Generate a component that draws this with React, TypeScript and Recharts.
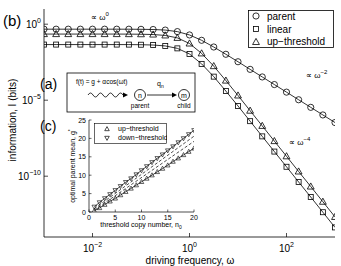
import React from 'react';
import { LineChart, Line, XAxis, YAxis, Legend } from 'recharts';

const FONT = '"Liberation Sans", Arial, sans-serif';

// main panel (b): information vs driving frequency
const omega = [
  0.001, 0.001778, 0.003162, 0.005623, 0.01, 0.01778, 0.03162, 0.05623, 0.1, 0.1778, 0.3162, 0.5623,
  1, 1.778, 3.162, 5.623, 10, 17.78, 31.62, 56.23, 100, 177.8, 316.2, 562.3, 1000,
];
const parentInfo = [
  0.47, 0.47, 0.47, 0.47, 0.47, 0.47, 0.47, 0.468, 0.461, 0.448, 0.411, 0.326,
  0.196, 0.0871, 0.0316, 0.0105, 3.39e-3, 1.07e-3, 3.39e-4, 1.07e-4, 3.39e-5, 1.07e-5, 3.39e-6, 1.07e-6, 3.39e-7,
];
const linearInfo = [
  0.0457, 0.0457, 0.0457, 0.0457, 0.0457, 0.0457, 0.0457, 0.0455, 0.0447, 0.0427, 0.0372, 0.0257,
  0.011, 2.45e-3, 3.55e-4, 3.98e-5, 4.17e-6, 4.17e-7, 4.17e-8, 4.17e-9, 4.17e-10, 4.17e-11, 4.27e-12, 4.27e-13, 4.27e-14,
];
const upInfo = [
  0.224, 0.224, 0.224, 0.224, 0.224, 0.224, 0.224, 0.222, 0.219, 0.209, 0.182, 0.126,
  0.0537, 0.012, 1.74e-3, 1.95e-4, 2.04e-5, 2.04e-6, 2.04e-7, 2.04e-8, 2.04e-9, 2.04e-10, 2.09e-11, 2.09e-12, 2.09e-13,
];
const omegaTicks = [0.01, 1, 100];
const infoTicks = [1e-10, 1e-5, 1];

// inset (c): optimal parent mean vs threshold copy number
const copyNumber = [1, 2, 3, 4, 5, 6, 7, 8, 9, 10, 11, 12, 13, 14, 15, 16, 17, 18, 19, 20];
const upMean = [0.3, 1.1, 2.0, 2.9, 3.7, 4.6, 5.5, 6.4, 7.3, 8.2, 9.1, 10.0, 10.9, 11.8, 12.7, 13.7, 14.6, 15.5, 16.4, 17.3];
const downMean = [1.4, 2.6, 3.7, 4.8, 5.9, 7.0, 8.1, 9.1, 10.2, 11.3, 12.4, 13.5, 14.6, 15.6, 16.7, 17.8, 18.9, 20.0, 21.1, 22.2];
const dashN = [1, 20];
const dashHigh = [0.9, 20.6];
const dashLow = [0.5, 19.2];
const copyTicks = [0, 5, 10, 15, 20];
const meanTicks = [0, 5, 10, 15, 20, 25];

const mainRows = omega.map((w, i) => ({ w, parent: parentInfo[i], linear: linearInfo[i], up: upInfo[i] }));
const insetRows = copyNumber.map((n, i) => ({ n, up: upMean[i], down: downMean[i] }));
const dashRows = dashN.map((n, i) => ({ n, hi: dashHigh[i], lo: dashLow[i] }));

const sup = (e: number) => (e < 0 ? '\u2212' + Math.abs(e) : String(e));
const expOf = (v: number) => Math.round(Math.log10(v));

const CircleDot = (p: any) =>
  p.cx == null ? <g key={p.index} /> : (
    <circle key={p.index} cx={p.cx} cy={p.cy} r={3.1} fill="none" stroke="#000" strokeWidth={0.8} />
  );
const SquareDot = (p: any) =>
  p.cx == null ? <g key={p.index} /> : (
    <rect key={p.index} x={p.cx - 2.5} y={p.cy - 2.5} width={5} height={5} fill="none" stroke="#000" strokeWidth={0.8} />
  );
const triUp = (cx: number, cy: number, s: number) =>
  `M${cx},${cy - s} L${cx + s * 0.95},${cy + s * 0.7} L${cx - s * 0.95},${cy + s * 0.7} Z`;
const triDown = (cx: number, cy: number, s: number) =>
  `M${cx},${cy + s} L${cx + s * 0.95},${cy - s * 0.7} L${cx - s * 0.95},${cy - s * 0.7} Z`;
const TriDot = (p: any) =>
  p.cx == null ? <g key={p.index} /> : (
    <path key={p.index} d={triUp(p.cx, p.cy, 3.6)} fill="none" stroke="#000" strokeWidth={0.8} />
  );
const SmallUp = (p: any) =>
  p.cx == null ? <g key={p.index} /> : (
    <path key={p.index} d={triUp(p.cx, p.cy, 2.4)} fill="none" stroke="#000" strokeWidth={0.6} />
  );
const SmallDown = (p: any) =>
  p.cx == null ? <g key={p.index} /> : (
    <path key={p.index} d={triDown(p.cx, p.cy, 2.4)} fill="none" stroke="#000" strokeWidth={0.6} />
  );

// ticks point inward like the original figure
const BottomLogTick = (p: any) => (
  <g>
    <line x1={p.x} y1={p.y} x2={p.x} y2={p.y - 4} stroke="#000" strokeWidth={0.7} />
    <text x={p.x} y={p.y + 15} textAnchor="middle" fontSize={10} fill="#000" fontFamily={FONT}>
      10<tspan dy={-5} fontSize={7}>{sup(expOf(p.payload.value))}</tspan>
    </text>
  </g>
);
const TopTick = (p: any) => <line x1={p.x} y1={p.y} x2={p.x} y2={p.y + 4} stroke="#000" strokeWidth={0.7} />;
const LeftLogTick = (p: any) => (
  <g>
    <line x1={p.x} y1={p.y} x2={p.x + 4} y2={p.y} stroke="#000" strokeWidth={0.7} />
    <text x={p.x - 3} y={p.y + 4} textAnchor="end" fontSize={10} fill="#000" fontFamily={FONT}>
      10<tspan dy={-5} fontSize={7}>{sup(expOf(p.payload.value))}</tspan>
    </text>
  </g>
);
const RightTick = (p: any) => <line x1={p.x} y1={p.y} x2={p.x - 4} y2={p.y} stroke="#000" strokeWidth={0.7} />;

const InsetBottomTick = (p: any) => (
  <g>
    <line x1={p.x} y1={p.y} x2={p.x} y2={p.y - 2.5} stroke="#000" strokeWidth={0.6} />
    <text x={p.x} y={p.y + 8} textAnchor="middle" fontSize={7} fill="#000" fontFamily={FONT}>
      {p.payload.value}
    </text>
  </g>
);
const InsetLeftTick = (p: any) => (
  <g>
    <line x1={p.x} y1={p.y} x2={p.x + 2.5} y2={p.y} stroke="#000" strokeWidth={0.6} />
    <text x={p.x - 3} y={p.y + 2.5} textAnchor="end" fontSize={7} fill="#000" fontFamily={FONT}>
      {p.payload.value}
    </text>
  </g>
);
const InsetTopTick = (p: any) => <line x1={p.x} y1={p.y} x2={p.x} y2={p.y + 2.5} stroke="#000" strokeWidth={0.6} />;
const InsetRightTick = (p: any) => <line x1={p.x} y1={p.y} x2={p.x - 2.5} y2={p.y} stroke="#000" strokeWidth={0.6} />;

const MainLegend = () => (
  <svg width={86} height={38} style={{ display: 'block' }}>
    <rect x={0.5} y={0.5} width={85} height={37} fill="#fff" stroke="#000" strokeWidth={0.8} />
    <circle cx={8} cy={6} r={3.1} fill="none" stroke="#000" strokeWidth={0.8} />
    <text x={19} y={9.5} fontSize={10} fontFamily={FONT}>parent</text>
    <rect x={5.5} y={16.5} width={5} height={5} fill="none" stroke="#000" strokeWidth={0.8} />
    <text x={19} y={22.5} fontSize={10} fontFamily={FONT}>linear</text>
    <path d={triUp(8, 32, 3.6)} fill="none" stroke="#000" strokeWidth={0.8} />
    <text x={19} y={35} fontSize={10} fontFamily={FONT}>up−threshold</text>
  </svg>
);

const InsetLegend = () => (
  <svg width={73} height={21} style={{ display: 'block' }}>
    <rect x={0.5} y={0.5} width={72} height={20} fill="#fff" stroke="#000" strokeWidth={0.6} />
    <path d={triUp(13, 6, 2.4)} fill="none" stroke="#000" strokeWidth={0.7} />
    <text x={24} y={8} fontSize={7} fontFamily={FONT}>up−threshold</text>
    <path d={triDown(13, 15, 2.4)} fill="none" stroke="#000" strokeWidth={0.7} />
    <text x={24} y={17} fontSize={7} fontFamily={FONT}>down−threshold</text>
  </svg>
);

export default function App() {
  return (
    <div style={{ position: 'absolute', left: 0, top: 0, width: 341, height: 266, background: '#fff', fontFamily: FONT }}>
      <div style={{ position: 'absolute', left: 0, top: 0 }}>
        <LineChart width={341} height={266} data={mainRows} margin={{ top: 9, right: 6, left: 0, bottom: 0 }}>
          <XAxis xAxisId="b" dataKey="w" type="number" scale="log" domain={[1e-3, 1e3]} ticks={omegaTicks}
            allowDataOverflow height={29} tickSize={0} tickMargin={0} tickLine={false} interval={0}
            axisLine={{ stroke: '#000', strokeWidth: 0.8 }} tick={BottomLogTick} />
          <XAxis xAxisId="t" orientation="top" dataKey="w" type="number" scale="log" domain={[1e-3, 1e3]}
            ticks={omegaTicks} allowDataOverflow height={0} tickSize={0} tickMargin={0} tickLine={false} interval={0}
            axisLine={{ stroke: '#000', strokeWidth: 0.8 }} tick={TopTick} />
          <YAxis yAxisId="l" type="number" scale="log" domain={[1e-14, 10]} ticks={infoTicks} allowDataOverflow
            width={44} tickSize={0} tickMargin={0} tickLine={false} interval={0}
            axisLine={{ stroke: '#000', strokeWidth: 0.8 }} tick={LeftLogTick} />
          <YAxis yAxisId="r" orientation="right" type="number" scale="log" domain={[1e-14, 10]} ticks={infoTicks}
            allowDataOverflow width={0} tickSize={0} tickMargin={0} tickLine={false} interval={0}
            axisLine={{ stroke: '#000', strokeWidth: 0.8 }} tick={RightTick} />
          <Legend layout="vertical" align="center" verticalAlign="middle" content={MainLegend}
            wrapperStyle={{ position: 'absolute', left: 248, top: 10, width: 86, height: 38 }} />
          <Line xAxisId="b" yAxisId="l" dataKey="parent" name="parent" type="linear" stroke="#000" strokeWidth={0.8}
            dot={CircleDot} isAnimationActive={false} />
          <Line xAxisId="b" yAxisId="l" dataKey="linear" name="linear" type="linear" stroke="#000" strokeWidth={0.8}
            dot={SquareDot} isAnimationActive={false} />
          <Line xAxisId="b" yAxisId="l" dataKey="up" name="up-threshold" type="linear" stroke="#000" strokeWidth={0.8}
            dot={TriDot} isAnimationActive={false} />
        </LineChart>
      </div>

      <svg width={341} height={266} style={{ position: 'absolute', left: 0, top: 0 }} fontFamily={FONT}>
        <text x={3} y={26} fontSize={15}>(b)</text>
        <text x={91} y={20} fontSize={8}>∝ ω<tspan dy={-4} fontSize={6}>0</tspan></text>
        <text x={306} y={78} fontSize={8}>∝ ω<tspan dy={-4} fontSize={6}>−2</tspan></text>
        <text x={289} y={145} fontSize={8}>∝ ω<tspan dy={-4} fontSize={6}>−4</tspan></text>
        <text x={16} y={120} fontSize={10} textAnchor="middle" transform="rotate(-90 16 120)">information, I (bits)</text>
        <text x={190} y={264} fontSize={10} textAnchor="middle">driving frequency, ω</text>

        <text x={40} y={89} fontSize={14}>(a)</text>
        <rect x={67} y={73} width={128} height={39} fill="#fff" stroke="#000" strokeWidth={0.8} />
        <text x={76} y={84} fontSize={6.5}>f(t) = g + αcos(ωt)</text>
        <path d="M88 95 q2.5 -4 5 0 t5 0 t5 0 t5 0 t5 0 t5 0 t5 0" fill="none" stroke="#000" strokeWidth={0.8} />
        <path d="M123 92.5 L128 95 L123 97.5 Z" fill="#000" />
        <circle cx={140} cy={95} r={5.5} fill="#fff" stroke="#000" strokeWidth={0.8} />
        <text x={140} y={97.5} fontSize={7} textAnchor="middle">n</text>
        <text x={140} y={108} fontSize={6.5} textAnchor="middle">parent</text>
        <line x1={147} y1={95} x2={173} y2={95} stroke="#000" strokeWidth={0.8} />
        <path d="M172 92.5 L177 95 L172 97.5 Z" fill="#000" />
        <text x={157} y={86} fontSize={7}>q<tspan dy={2} fontSize={5}>n</tspan></text>
        <circle cx={184} cy={95} r={5.5} fill="#fff" stroke="#000" strokeWidth={0.8} />
        <text x={184} y={97.5} fontSize={7} textAnchor="middle">m</text>
        <text x={184} y={108} fontSize={6.5} textAnchor="middle">child</text>

        <text x={40} y={131} fontSize={14}>(c)</text>
        <rect x={89} y={120} width={105} height={92} fill="#fff" />
        <text x={75} y={166} fontSize={7} textAnchor="middle" transform="rotate(-90 75 166)">
          optimal parent mean, g<tspan dy={-3} fontSize={5}>*</tspan>
        </text>
        <text x={141} y={227} fontSize={7} textAnchor="middle">
          threshold copy number, n<tspan dy={2} fontSize={5}>0</tspan>
        </text>
      </svg>

      <div style={{ position: 'absolute', left: 40, top: 115 }}>
        <LineChart width={160} height={115} data={insetRows} margin={{ top: 5, right: 6, left: 0, bottom: 0 }}>
          <XAxis xAxisId="b" dataKey="n" type="number" domain={[0, 20]} ticks={copyTicks} allowDataOverflow
            height={18} tickSize={0} tickMargin={0} tickLine={false} interval={0}
            axisLine={{ stroke: '#000', strokeWidth: 0.7 }} tick={InsetBottomTick} />
          <XAxis xAxisId="t" orientation="top" dataKey="n" type="number" domain={[0, 20]} ticks={copyTicks}
            allowDataOverflow height={0} tickSize={0} tickMargin={0} tickLine={false} interval={0}
            axisLine={{ stroke: '#000', strokeWidth: 0.7 }} tick={InsetTopTick} />
          <YAxis yAxisId="l" type="number" domain={[0, 25]} ticks={meanTicks} allowDataOverflow width={49}
            tickSize={0} tickMargin={0} tickLine={false} interval={0}
            axisLine={{ stroke: '#000', strokeWidth: 0.7 }} tick={InsetLeftTick} />
          <YAxis yAxisId="r" orientation="right" type="number" domain={[0, 25]} ticks={meanTicks} allowDataOverflow
            width={0} tickSize={0} tickMargin={0} tickLine={false} interval={0}
            axisLine={{ stroke: '#000', strokeWidth: 0.7 }} tick={InsetRightTick} />
          <Legend layout="vertical" align="center" verticalAlign="middle" content={InsetLegend}
            wrapperStyle={{ position: 'absolute', left: 54, top: 8, width: 73, height: 21 }} />
          <Line xAxisId="b" yAxisId="l" data={dashRows} dataKey="hi" type="linear" stroke="#000" strokeWidth={0.7}
            strokeDasharray="3 2" dot={false} legendType="none" isAnimationActive={false} />
          <Line xAxisId="b" yAxisId="l" data={dashRows} dataKey="lo" type="linear" stroke="#000" strokeWidth={0.7}
            strokeDasharray="3 2" dot={false} legendType="none" isAnimationActive={false} />
          <Line xAxisId="b" yAxisId="l" dataKey="up" name="up-threshold" type="linear" stroke="#000" strokeWidth={0.7}
            dot={SmallUp} isAnimationActive={false} />
          <Line xAxisId="b" yAxisId="l" dataKey="down" name="down-threshold" type="linear" stroke="#000"
            strokeWidth={0.7} dot={SmallDown} isAnimationActive={false} />
        </LineChart>
      </div>
    </div>
  );
}
